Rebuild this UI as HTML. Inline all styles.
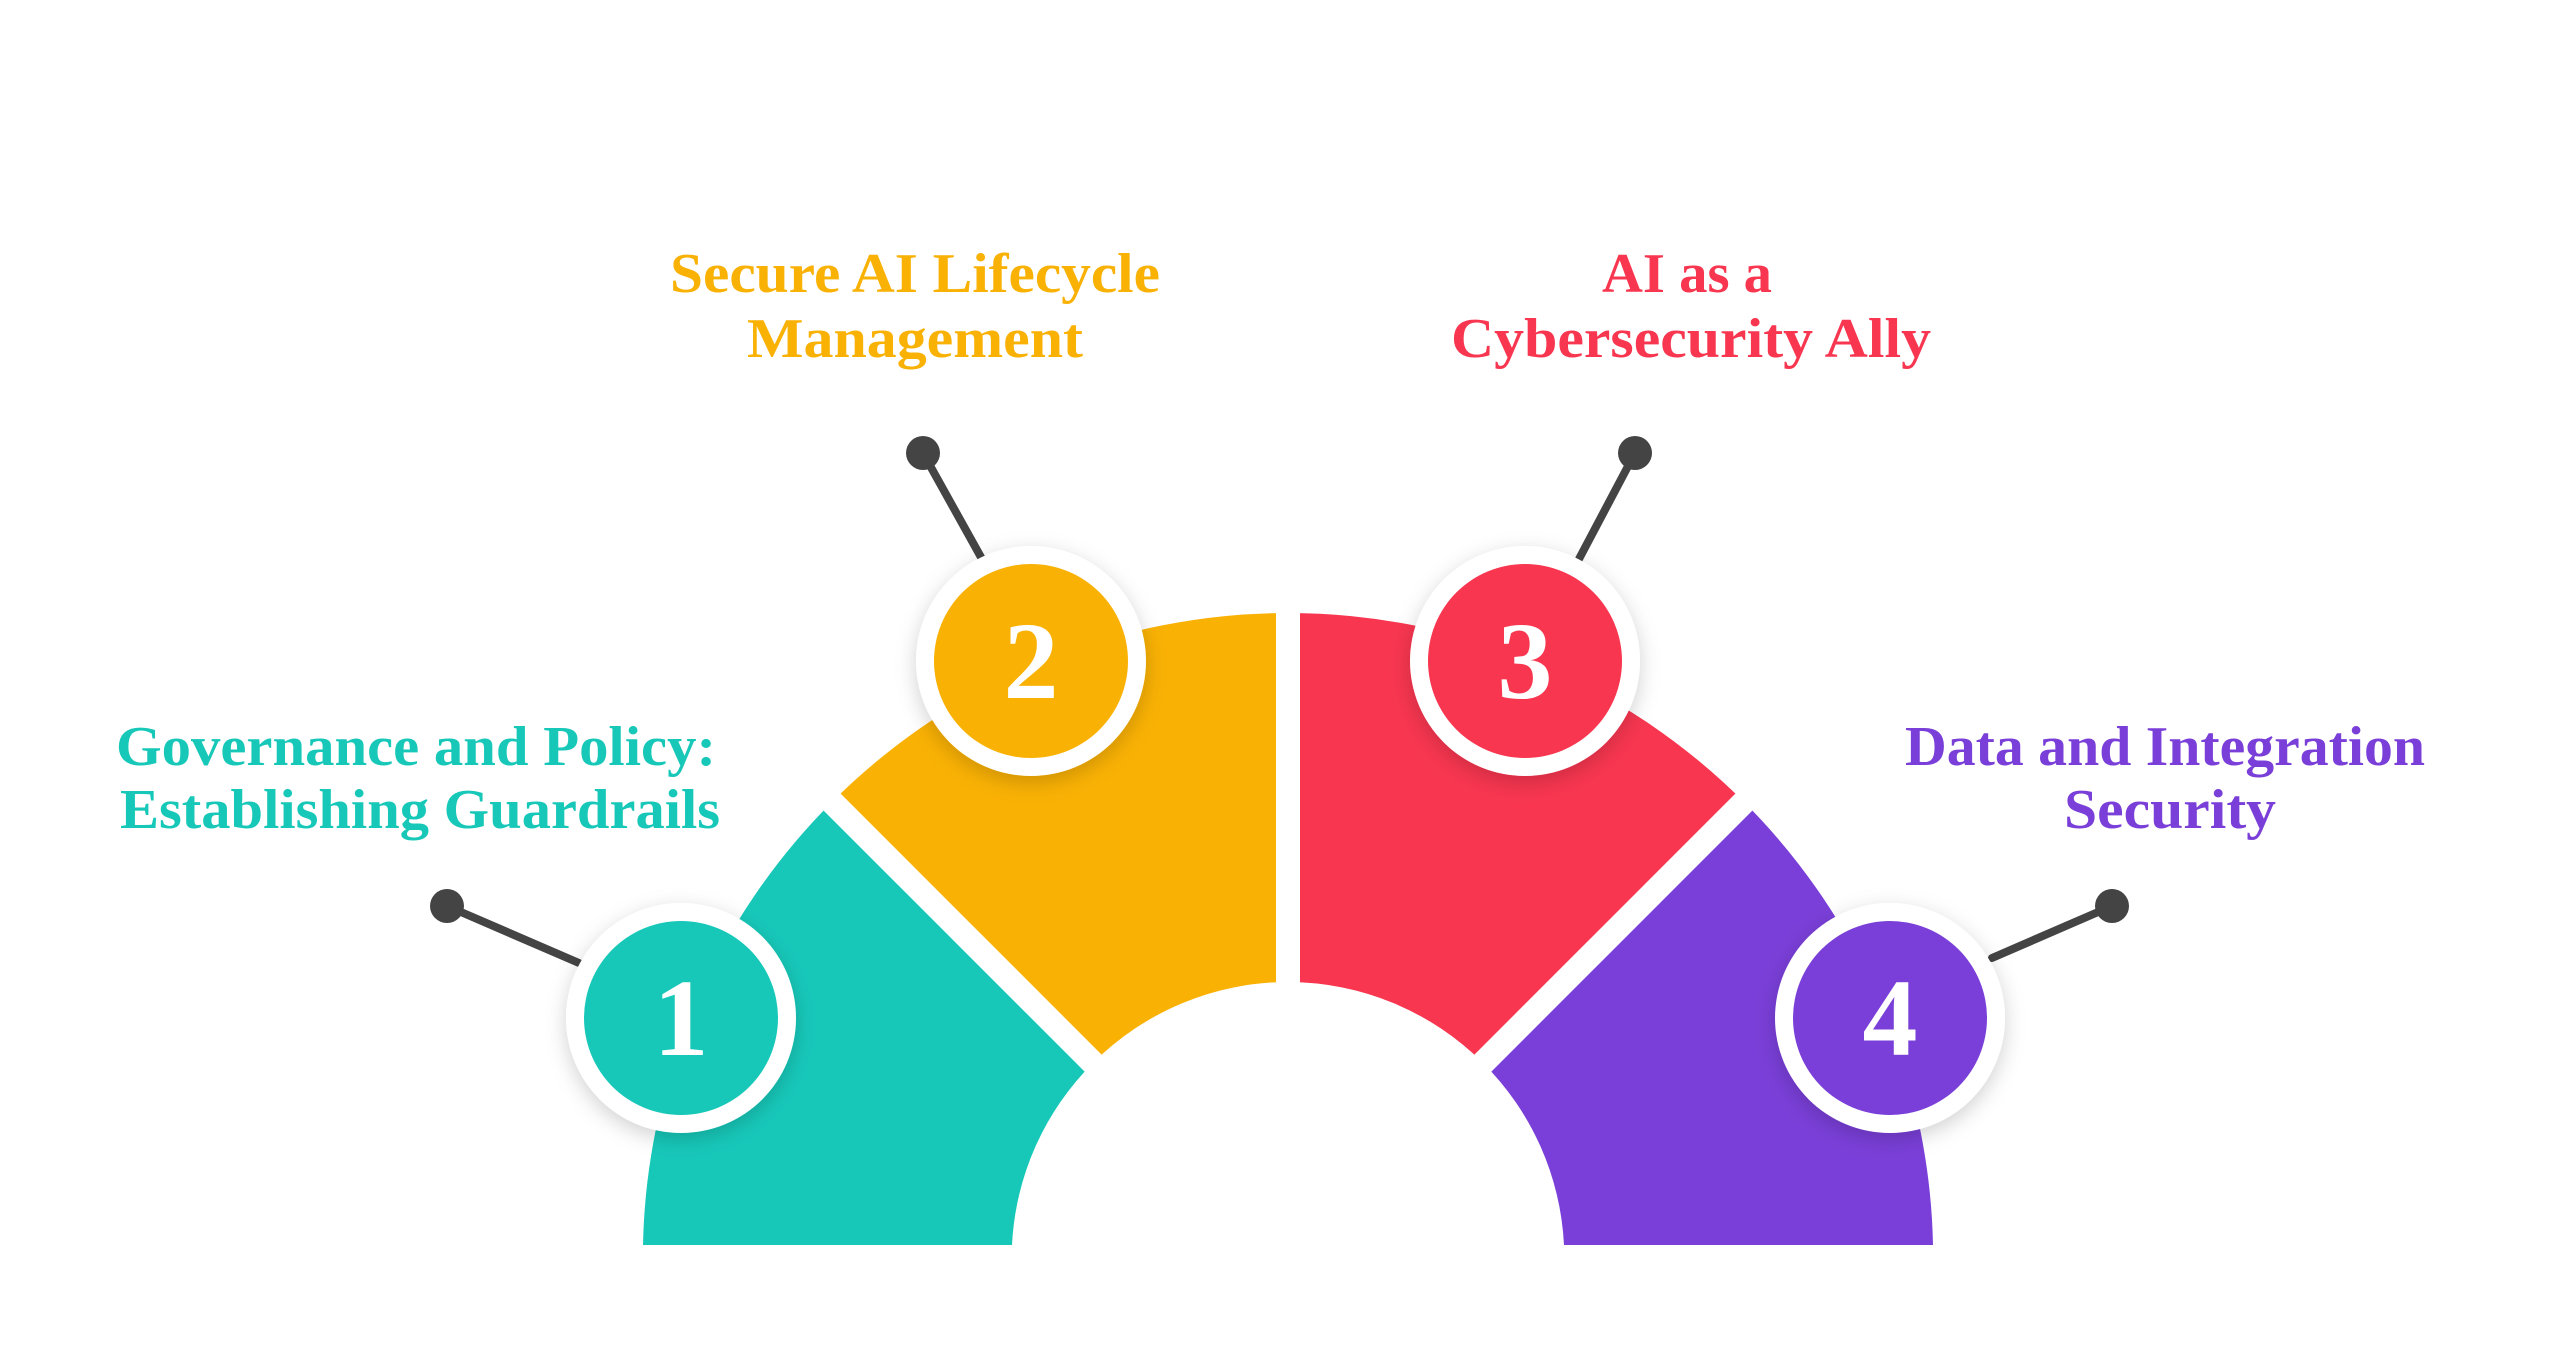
<!DOCTYPE html>
<html><head><meta charset="utf-8"><style>html,body{margin:0;padding:0;background:#fff}svg{display:block}</style></head>
<body>
<svg width="2560" height="1354" viewBox="0 0 2560 1354" xmlns="http://www.w3.org/2000/svg">
<defs>
<filter id="sh" x="-30%" y="-30%" width="160%" height="160%"><feDropShadow dx="0" dy="6" stdDeviation="10" flood-color="#000" flood-opacity="0.18"/></filter>
</defs>
<g transform="translate(-10,-9)">
<g>
<path d="M653,1254 A645,645 0 0 1 842,811 L1103,1072 A276,276 0 0 0 1022,1254 Z" fill="#17C8B9"/>
<path d="M842,811 A645,645 0 0 1 1298,622 L1298,991 A276,276 0 0 0 1103,1072 Z" fill="#F9B104"/>
<path d="M1298,622 A645,645 0 0 1 1754,811 L1493,1072 A276,276 0 0 0 1298,991 Z" fill="#F83650"/>
<path d="M1754,811 A645,645 0 0 1 1943,1254 L1574,1254 A276,276 0 0 0 1493,1072 Z" fill="#7A3FD8"/>
<g stroke="#fff" stroke-width="24">
<line x1="1298" y1="1267" x2="1298" y2="600"/>
<line x1="1298" y1="1267" x2="828" y2="797"/>
<line x1="1298" y1="1267" x2="1768" y2="797"/>
</g>
</g>
<g stroke="#444" stroke-width="8" stroke-linecap="round">
<line x1="457" y1="915" x2="589" y2="972"/>
<line x1="933" y1="462" x2="992" y2="568"/>
<line x1="1645" y1="462" x2="1589" y2="568"/>
<line x1="2122" y1="915" x2="2002" y2="967"/>
</g>
<g fill="#444">
<circle cx="457" cy="915" r="17"/><circle cx="933" cy="462" r="17"/>
<circle cx="1645" cy="462" r="17"/><circle cx="2122" cy="915" r="17"/>
</g>
<g filter="url(#sh)" fill="#fff">
<circle cx="691" cy="1027" r="115"/><circle cx="1041" cy="670" r="115"/>
<circle cx="1535" cy="670" r="115"/><circle cx="1900" cy="1027" r="115"/>
</g>
<circle cx="691" cy="1027" r="97" fill="#17C8B9"/>
<circle cx="1041" cy="670" r="97" fill="#F9B104"/>
<circle cx="1535" cy="670" r="97" fill="#F83650"/>
<circle cx="1900" cy="1027" r="97" fill="#7A3FD8"/>
<g font-family="Liberation Serif, serif" font-weight="bold" font-size="110" fill="#fff" text-anchor="middle">
<text x="691" y="1064">1</text><text x="1041" y="707">2</text>
<text x="1535" y="707">3</text><text x="1900" y="1064">4</text>
</g>
<g font-family="Liberation Serif, serif" font-weight="bold" font-size="56" text-anchor="middle">
<text x="426" y="774" fill="#17C8B9" textLength="600" lengthAdjust="spacingAndGlyphs">Governance and Policy:</text>
<text x="430" y="837" fill="#17C8B9" textLength="600" lengthAdjust="spacingAndGlyphs">Establishing Guardrails</text>
<text x="925" y="301" fill="#F9B104" textLength="490" lengthAdjust="spacingAndGlyphs">Secure AI Lifecycle</text>
<text x="925" y="366" fill="#F9B104" textLength="336" lengthAdjust="spacingAndGlyphs">Management</text>
<text x="1697" y="301" fill="#F83650" textLength="170" lengthAdjust="spacingAndGlyphs">AI as a</text>
<text x="1701" y="366" fill="#F83650" textLength="480" lengthAdjust="spacingAndGlyphs">Cybersecurity Ally</text>
<text x="2175" y="774" fill="#7A3FD8" textLength="520" lengthAdjust="spacingAndGlyphs">Data and Integration</text>
<text x="2180" y="837" fill="#7A3FD8" textLength="212" lengthAdjust="spacingAndGlyphs">Security</text>
</g>
</g>
</svg>
</body></html>
